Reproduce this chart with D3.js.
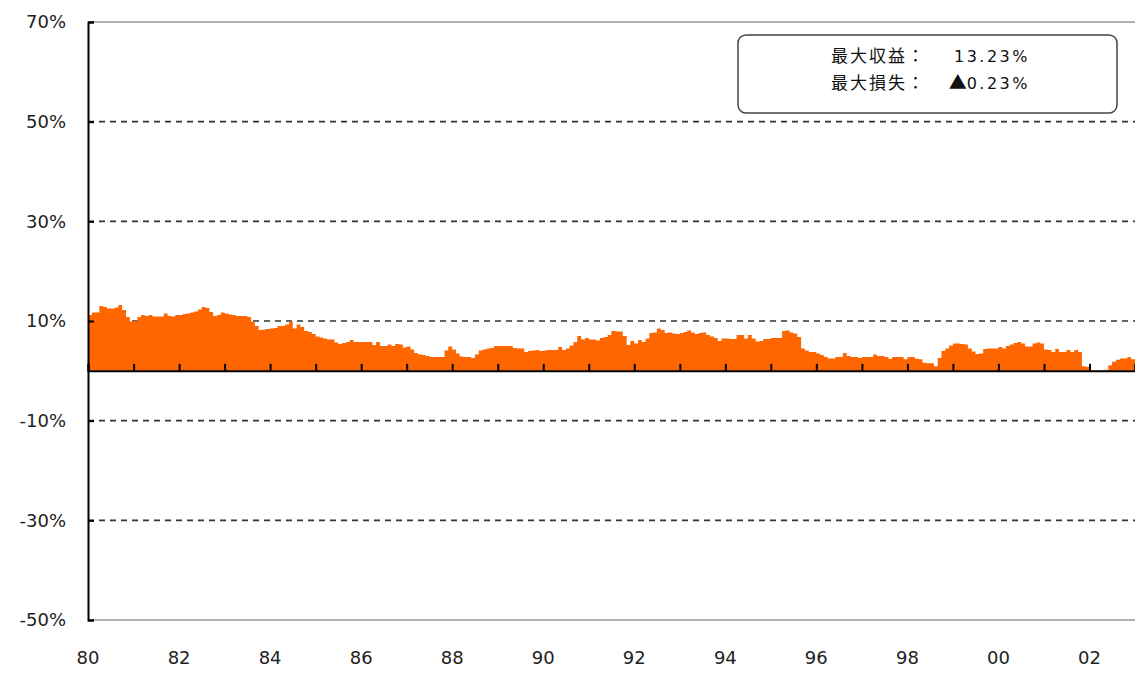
<!DOCTYPE html>
<html>
<head>
<meta charset="utf-8">
<script src="https://cdn.jsdelivr.net/npm/d3@7"></script>
<style>
body { margin: 0; background: #fff; }
</style>
</head>
<body>
<div id="chart"></div>
<script>
// monthly returns (%) from Jan 1980, one row per year
var startYear = 1980;
var returns = [
	11.2, 11.7, 11.7, 13.0, 12.8, 12.5, 12.5, 12.7, 13.23, 12.2, 10.8, 9.9,   // 80
	10.0, 10.8, 11.2, 11.0, 11.2, 10.9, 10.9, 10.9, 11.5, 11.0, 10.9, 11.2,   // 81
	11.2, 11.4, 11.5, 11.7, 11.9, 12.3, 12.8, 12.6, 11.8, 11.0, 11.2, 11.7,   // 82
	11.5, 11.3, 11.2, 11.0, 11.0, 11.0, 10.8, 9.9, 9.0, 8.2, 8.3, 8.4,        // 83
	8.5, 8.6, 9.0, 9.0, 9.3, 9.9, 8.5, 9.3, 8.8, 8.0, 7.8, 7.4,               // 84
	6.9, 6.7, 6.5, 6.3, 6.3, 5.7, 5.4, 5.6, 5.8, 6.2, 5.8, 5.8,               // 85
	5.8, 5.8, 5.8, 5.2, 5.8, 5.0, 5.0, 5.3, 5.0, 5.4, 5.3, 4.7,               // 86
	4.9, 4.3, 3.6, 3.3, 3.2, 3.0, 2.8, 2.8, 2.8, 2.8, 4.1, 4.9,               // 87
	4.3, 3.5, 2.9, 2.8, 2.8, 2.6, 3.3, 4.1, 4.3, 4.5, 4.6, 5.0,               // 88
	5.0, 5.0, 5.0, 5.0, 4.6, 4.5, 4.5, 3.8, 4.0, 4.1, 4.2, 4.0,               // 89
	4.1, 4.2, 4.2, 4.2, 4.8, 4.2, 4.5, 5.1, 5.8, 7.0, 6.3, 6.6,               // 90
	6.3, 6.3, 6.1, 6.6, 6.8, 7.2, 8.0, 7.9, 7.9, 7.0, 5.2, 6.0,               // 91
	5.5, 6.2, 5.8, 6.5, 7.6, 7.7, 8.5, 8.2, 7.6, 7.7, 7.5, 7.4,               // 92
	7.6, 7.8, 8.1, 7.7, 7.4, 7.6, 7.7, 7.2, 6.9, 6.6, 6.0, 6.5,               // 93
	6.5, 6.4, 6.4, 7.2, 7.2, 6.5, 7.2, 6.5, 5.9, 6.0, 6.4, 6.4,               // 94
	6.6, 6.6, 6.6, 8.0, 8.1, 7.7, 7.5, 6.8, 4.5, 4.1, 3.8, 3.8,               // 95
	3.5, 3.2, 2.8, 2.5, 2.5, 2.8, 2.8, 3.6, 3.0, 2.8, 2.8, 2.6,               // 96
	2.8, 2.8, 2.8, 3.3, 3.0, 3.0, 2.8, 2.4, 2.8, 2.8, 2.8, 2.3,               // 97
	2.8, 2.8, 2.4, 2.3, 1.6, 1.5, 1.5, 0.9, 2.6, 4.0, 4.5, 5.1,               // 98
	5.5, 5.5, 5.4, 5.3, 4.5, 3.9, 3.4, 3.5, 4.4, 4.5, 4.5, 4.5,               // 99
	4.8, 4.5, 5.0, 5.3, 5.6, 5.8, 5.5, 4.9, 4.9, 5.5, 5.7, 5.5,               // 00
	4.3, 4.2, 3.8, 4.4, 3.8, 3.8, 4.2, 3.8, 4.2, 3.8, 0.9, 0.8,               // 01
	-0.1, -0.2, -0.23, -0.1, 0.2, 1.1, 1.8, 2.2, 2.5, 2.5, 2.8, 2.3           // 02
];

var yTicks = [-50, -30, -10, 10, 30, 50, 70];
var gridValues = [-30, -10, 10, 30, 50];
var xLabelYears = [1980, 1982, 1984, 1986, 1988, 1990, 1992, 1994, 1996, 1998, 2000, 2002];
var legendLabels = ["最大収益：", "最大損失："];
var legendMarks = ["", "▲"];
var legendValues = ["13.23%", "0.23%"];

var width = 1135, height = 673;
var margin = { top: 22, right: 0, bottom: 53, left: 88 };

var svg = d3.select("#chart").append("svg")
	.attr("width", width)
	.attr("height", height);

var x = d3.scaleTime()
	.domain([new Date(startYear, 0, 1), new Date(startYear + 23, 0, 1)])
	.range([margin.left, width - margin.right]);

var y = d3.scaleLinear()
	.domain([-50, 70])
	.range([height - margin.bottom, margin.top]);

var fontAxis = "'DejaVu Sans', sans-serif";

// frame: top and bottom grey
svg.append("line")
	.attr("x1", margin.left).attr("x2", width)
	.attr("y1", y(70)).attr("y2", y(70))
	.attr("stroke", "#999").attr("stroke-width", 1.5);
svg.append("line")
	.attr("x1", margin.left).attr("x2", width)
	.attr("y1", y(-50)).attr("y2", y(-50))
	.attr("stroke", "#999").attr("stroke-width", 1.5);

// dashed gridlines
svg.selectAll(".grid")
	.data(gridValues)
	.enter().append("line")
	.attr("class", "grid")
	.attr("x1", margin.left).attr("x2", width)
	.attr("y1", function(d) { return y(d); })
	.attr("y2", function(d) { return y(d); })
	.attr("stroke", "#333")
	.attr("stroke-width", 1.6)
	.attr("stroke-dasharray", "6,5");

// monthly values as a stepped area (last value repeated to close the final month)
var points = returns.map(function(v, i) { return { date: new Date(startYear, i, 1), v: v }; });
points.push({ date: new Date(startYear, returns.length, 1), v: returns[returns.length - 1] });

var area = d3.area()
	.curve(d3.curveStepAfter)
	.x(function(d) { return x(d.date); })
	.y0(y(0))
	.y1(function(d) { return y(d.v); });

svg.append("path")
	.datum(points)
	.attr("d", area)
	.attr("fill", "#ff6600");

// zero line with yearly ticks
var xAxis = d3.axisTop(x)
	.ticks(d3.timeYear.every(1))
	.tickSize(7)
	.tickFormat("");
var xAxisG = svg.append("g")
	.attr("transform", "translate(0," + y(0) + ")")
	.call(xAxis);
xAxisG.select(".domain").attr("stroke", "#000").attr("stroke-width", 2);
xAxisG.selectAll(".tick line").attr("stroke", "#000").attr("stroke-width", 2);

// year labels under the plot
svg.selectAll(".xlabel")
	.data(xLabelYears)
	.enter().append("text")
	.attr("class", "xlabel")
	.attr("x", function(d) { return x(new Date(d, 0, 1)); })
	.attr("y", 658)
	.attr("dy", "0.35em")
	.attr("text-anchor", "middle")
	.attr("font-family", fontAxis)
	.attr("font-size", 18)
	.attr("fill", "#222")
	.text(function(d) { return d3.format("02")(d % 100); });

// left axis
var yAxis = d3.axisRight(y)
	.tickValues(yTicks)
	.tickSize(6)
	.tickFormat("");
var yAxisG = svg.append("g")
	.attr("transform", "translate(" + margin.left + ",0)")
	.call(yAxis);
yAxisG.select(".domain").attr("stroke", "#000").attr("stroke-width", 2);
yAxisG.selectAll(".tick line").attr("stroke", "#000").attr("stroke-width", 2);

svg.selectAll(".ylabel")
	.data(yTicks)
	.enter().append("text")
	.attr("class", "ylabel")
	.attr("x", 66)
	.attr("y", function(d) { return y(d); })
	.attr("dy", "0.35em")
	.attr("text-anchor", "end")
	.attr("font-family", fontAxis)
	.attr("font-size", 18)
	.attr("fill", "#222")
	.text(function(d) { return d + "%"; });

// legend box
var legend = svg.append("g");
legend.append("rect")
	.attr("x", 738).attr("y", 35)
	.attr("width", 379).attr("height", 78)
	.attr("rx", 8).attr("ry", 8)
	.attr("fill", "#fff")
	.attr("stroke", "#444")
	.attr("stroke-width", 1.5);

legend.selectAll(".lab")
	.data(legendLabels)
	.enter().append("text")
	.attr("x", 831)
	.attr("y", function(d, i) { return 56 + i * 27; })
	.attr("dy", "0.35em")
	.attr("font-family", "'Noto Sans CJK JP', sans-serif")
	.attr("font-size", 17)
	.attr("letter-spacing", 2)
	.attr("fill", "#111")
	.text(function(d) { return d; });

var valText = legend.selectAll(".val")
	.data(legendValues)
	.enter().append("text")
	.attr("x", 1030)
	.attr("y", function(d, i) { return 56 + i * 27; })
	.attr("dy", "0.35em")
	.attr("text-anchor", "end")
	.attr("font-family", "'DejaVu Sans', sans-serif")
	.attr("font-size", 16)
	.attr("letter-spacing", 2.5)
	.attr("fill", "#111");

// loss sign drawn with the CJK font so it is full width
valText.append("tspan")
	.attr("font-family", "'Noto Sans CJK JP', sans-serif")
	.attr("font-size", 18)
	.attr("letter-spacing", 0)
	.text(function(d, i) { return legendMarks[i]; });
valText.append("tspan")
	.text(function(d) { return d; });
</script>
</body>
</html>
